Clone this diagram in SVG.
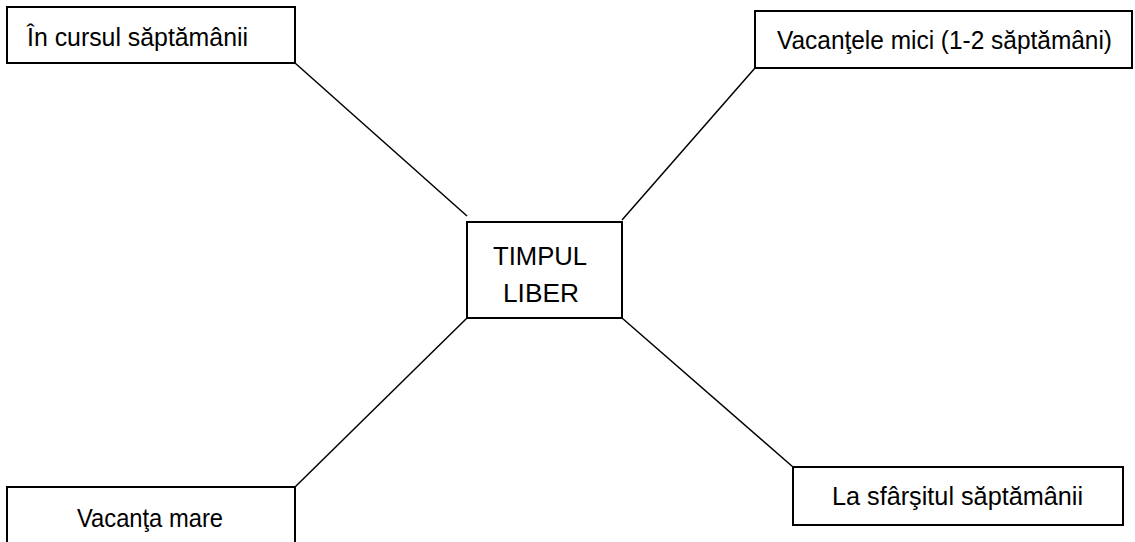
<svg xmlns="http://www.w3.org/2000/svg" width="1135" height="542" viewBox="0 0 1135 542">
<style>
.box{fill:#fff;stroke:#000;stroke-width:2}
.t{font-family:"Liberation Sans",Arial,sans-serif;font-size:25px;fill:#000}
.c line{stroke:#000;stroke-width:1.5}
</style>
<rect width="1135" height="542" fill="#fff"/>
<g class="c" id="connectors">
<line x1="295" y1="63" x2="467" y2="216"/>
<line x1="755" y1="68" x2="622" y2="220"/>
<line x1="467" y1="318" x2="295" y2="487"/>
<line x1="622" y1="318" x2="793" y2="467"/>
</g>
<g id="n1"><rect class="box" x="7" y="7" width="288" height="56"/><text class="t" x="27" y="46" textLength="221" lengthAdjust="spacingAndGlyphs">În cursul săptămânii</text></g>
<g id="n2"><rect class="box" x="755" y="11" width="377" height="57"/><text class="t" x="777" y="49" textLength="335" lengthAdjust="spacingAndGlyphs">Vacanţele mici (1-2 săptămâni)</text></g>
<g id="center"><rect class="box" x="467" y="222" width="155" height="96"/><text class="t" x="493" y="265" textLength="94" lengthAdjust="spacingAndGlyphs">TIMPUL</text><text class="t" x="503" y="302" textLength="76" lengthAdjust="spacingAndGlyphs">LIBER</text></g>
<g id="n3"><rect class="box" x="7" y="487" width="288" height="60"/><text class="t" x="77" y="527" textLength="146" lengthAdjust="spacingAndGlyphs">Vacanţa mare</text></g>
<g id="n4"><rect class="box" x="793" y="467" width="330" height="58"/><text class="t" x="832" y="505" textLength="251" lengthAdjust="spacingAndGlyphs">La sfârşitul săptămânii</text></g>
</svg>
